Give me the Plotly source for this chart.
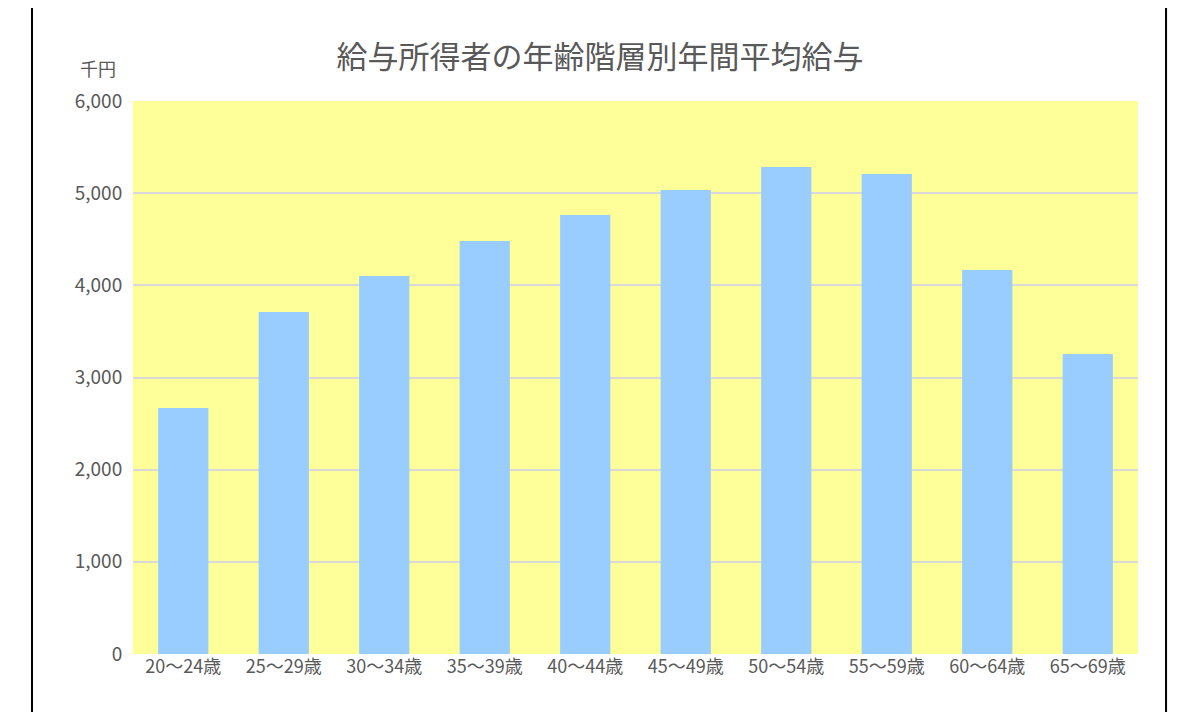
import plotly.graph_objects as go

categories = ["20～24歳","25～29歳","30～34歳","35～39歳","40～44歳","45～49歳","50～54歳","55～59歳","60～64歳","65～69歳"]
values = [2669, 3711, 4101, 4481, 4763, 5034, 5284, 5208, 4166, 3255]
tick_vals = [0, 1000, 2000, 3000, 4000, 5000, 6000]
tick_text = ["0", "1,000", "2,000", "3,000", "4,000", "5,000", "6,000"]

font = "Noto Sans CJK JP"
fig = go.Figure(go.Bar(x=categories, y=values, marker_color="#99CCFF", marker_line_width=0))
fig.update_layout(
    width=1184, height=704, margin=dict(l=125, r=54, t=93, b=58),
    paper_bgcolor="white", plot_bgcolor="#FFFF99", bargap=0.5,
    font=dict(family=font, color="#595959", size=17),
    title=dict(text="給与所得者の年齢階層別年間平均給与", x=0.5, xanchor="center", y=0.945,
               font=dict(size=31, color="#595959", family=font)),
    xaxis=dict(showgrid=False, showline=False, tickfont=dict(size=18)),
    yaxis=dict(range=[0, 6000], tickvals=tick_vals, ticktext=tick_text, showgrid=True,
               gridcolor="#D9D9D9", gridwidth=2, zeroline=False, tickfont=dict(size=19), ticklen=6,
               ticks="outside", tickcolor="rgba(0,0,0,0)"),
    showlegend=False,
)
fig.add_shape(type="rect", xref="paper", yref="paper", x0=-0.1005, x1=1.0279, y0=-0.1085, y1=1.1754,
              line=dict(color="black", width=2), fillcolor="rgba(0,0,0,0)")
fig.add_annotation(text="千円", xref="paper", yref="paper", x=-0.055, y=1.087, showarrow=False,
                   font=dict(size=18, color="#595959"))
fig.write_html("out.html")
